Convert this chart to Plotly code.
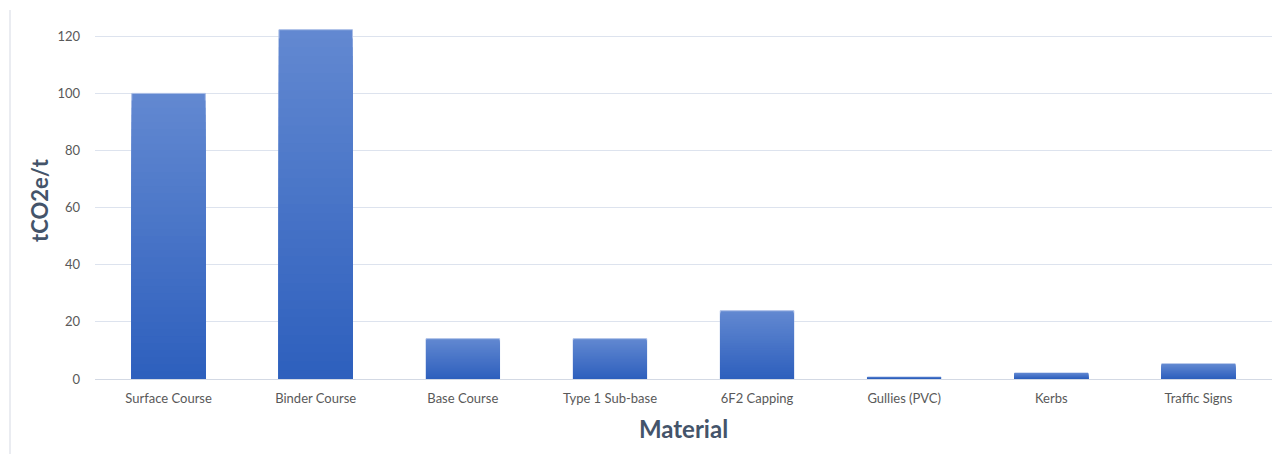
import plotly.graph_objects as go

categories = ["Surface Course", "Binder Course", "Base Course", "Type 1 Sub-base",
              "6F2 Capping", "Gullies (PVC)", "Kerbs", "Traffic Signs"]
values = [100.0, 122.3, 14.1, 14.1, 23.9, 0.7, 2.1, 5.3]
y_ticks = [0, 20, 40, 60, 80, 100, 120]

top_rgb = (98, 136, 209)
bot_rgb = (46, 96, 189)
N = 40

fig = go.Figure()
for k in range(N):
    frac = 1 - k / N
    t = k / (N - 1)
    c = tuple(round(top_rgb[i] + (bot_rgb[i] - top_rgb[i]) * t) for i in range(3))
    fig.add_trace(go.Bar(
        x=categories, y=[v * frac for v in values],
        marker=dict(color="rgb(%d,%d,%d)" % c,
                    line=dict(color="#a9bde6" if k == 0 else "rgba(0,0,0,0)", width=1 if k == 0 else 0)),
        width=0.5, showlegend=False, hoverinfo="skip" if k else None,
    ))

fig.update_layout(
    barmode="overlay",
    width=1277, height=454,
    margin=dict(l=95, r=5, t=22, b=75),
    paper_bgcolor="white", plot_bgcolor="white",
    font=dict(family="Lato, Open Sans, sans-serif", color="#595959", size=13),
    xaxis=dict(
        title=dict(text="Material", font=dict(size=24, color="#44546a", family="Lato, Open Sans, sans-serif", weight="bold"), standoff=16),
        showgrid=False, showline=False, ticks="", ticklabelstandoff=10, tickfont=dict(size=13, color="#595959"),
    ),
    yaxis=dict(
        title=dict(text="tCO2e/t", font=dict(size=22, color="#44546a", family="Lato, Open Sans, sans-serif", weight="bold"), standoff=2),
        range=[0, 125], tickvals=y_ticks, showgrid=True, gridcolor="#dde3ee", gridwidth=1,
        zeroline=True, zerolinecolor="#d3d9e4", zerolinewidth=1,
        showline=False, ticks="", ticklabelstandoff=14, tickfont=dict(size=13, color="#595959"),
    ),
    shapes=[dict(type="line", xref="paper", yref="paper",
                 x0=(10 - 95) / 1177, x1=(10 - 95) / 1177, y0=(379 - 10) / 357, y1=-0.3,
                 line=dict(color="#e3e6ec", width=1.5))],
)

fig.write_html("out.html")
